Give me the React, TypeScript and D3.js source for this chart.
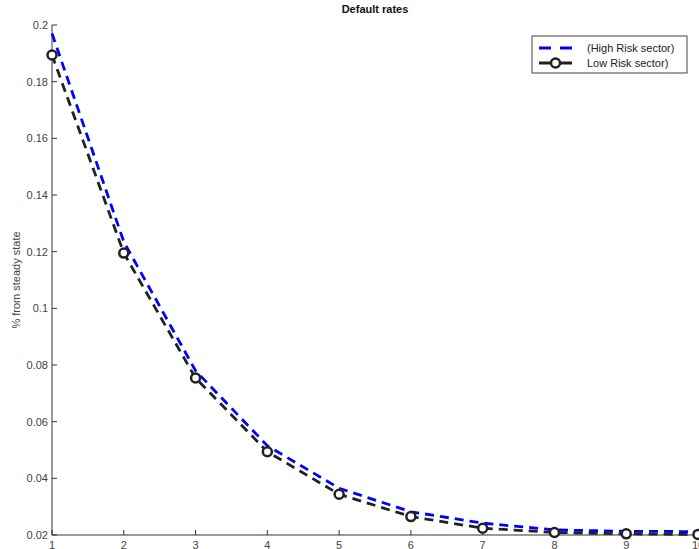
import React from "react";
import * as d3 from "d3";

const periods = [1, 2, 3, 4, 5, 6, 7, 8, 9, 10];
const highRisk = [0.197, 0.1235, 0.078, 0.0515, 0.0365, 0.0282, 0.0242, 0.0218, 0.0213, 0.0212];
const lowRisk = [0.1894, 0.1195, 0.0754, 0.0494, 0.0344, 0.0265, 0.0224, 0.0209, 0.0204, 0.0202];
const yTicks = [0.02, 0.04, 0.06, 0.08, 0.1, 0.12, 0.14, 0.16, 0.18, 0.2];
const seriesNames = ["(High Risk sector)", "Low Risk sector)"];

const W = 699;
const H = 549;
const margin = { left: 52, right: 1, top: 25, bottom: 14 };
const font = "'Liberation Sans', Arial, Helvetica, sans-serif";

export default function App() {
  const x = d3.scaleLinear().domain([1, 10]).range([margin.left, W - margin.right]);
  const y = d3.scaleLinear().domain([0.02, 0.2]).range([H - margin.bottom, margin.top]);

  const line = d3
    .line<number>()
    .x((d, i) => x(periods[i]))
    .y((d) => y(d));

  const x0 = x(1);
  const y0 = y(0.02);

  return (
    <svg
      width={W}
      height={H}
      style={{ position: "absolute", left: 0, top: 0, background: "#fff" }}
      fontFamily={font}
    >
      <text x={(x(1) + x(10)) / 2} y={13} textAnchor="middle" fontSize={11} fontWeight="bold" fill="#111">
        Default rates
      </text>
      <text
        transform={`translate(20, ${(y(0.02) + y(0.2)) / 2}) rotate(-90)`}
        textAnchor="middle"
        fontSize={11}
        fill="#444"
      >
        % from steady state
      </text>

      {/* axes */}
      <line x1={x0} x2={x0} y1={y(0.2)} y2={y0} stroke="#333" strokeWidth={1} />
      <line x1={x0} x2={W} y1={y0} y2={y0} stroke="#333" strokeWidth={1} />
      {yTicks.map((t) => (
        <g key={"y" + t}>
          <line x1={x0} x2={x0 + 5} y1={y(t)} y2={y(t)} stroke="#333" />
          <text x={x0 - 4} y={y(t)} dy="0.35em" textAnchor="end" fontSize={11} fill="#444">
            {d3.format("~g")(t)}
          </text>
        </g>
      ))}
      {periods.map((p) => (
        <g key={"x" + p}>
          <line x1={x(p)} x2={x(p)} y1={y0} y2={y0 - 5} stroke="#333" />
          <text x={x(p)} y={y0 + 6} dominantBaseline="hanging" textAnchor="middle" fontSize={11} fill="#444">
            {p}
          </text>
        </g>
      ))}

      {/* series */}
      <path d={line(highRisk) || ""} fill="none" stroke="#0000ff" strokeWidth={2.8} strokeDasharray="9,6" />
      <path d={line(lowRisk) || ""} fill="none" stroke="#222" strokeWidth={2.8} strokeDasharray="9,6" />
      {lowRisk.map((v, i) => (
        <circle key={i} cx={x(periods[i])} cy={y(v)} r={4.5} fill="#fff" stroke="#222" strokeWidth={2.5} />
      ))}

      {/* legend */}
      <g transform="translate(532, 36)">
        <rect width={155} height={37} fill="#fff" stroke="#444" strokeWidth={1} />
        <line x1={7} x2={40} y1={12} y2={12} stroke="#0000ff" strokeWidth={2.8} strokeDasharray="12,9" />
        <text x={55} y={12} dy="0.35em" fontSize={11} fill="#222">
          {seriesNames[0]}
        </text>
        <line x1={7} x2={40} y1={27} y2={27} stroke="#222" strokeWidth={2.8} strokeDasharray="12,9" />
        <circle cx={23.5} cy={27} r={4.5} fill="#fff" stroke="#222" strokeWidth={2.5} />
        <text x={55} y={27} dy="0.35em" fontSize={11} fill="#222">
          {seriesNames[1]}
        </text>
      </g>
    </svg>
  );
}
